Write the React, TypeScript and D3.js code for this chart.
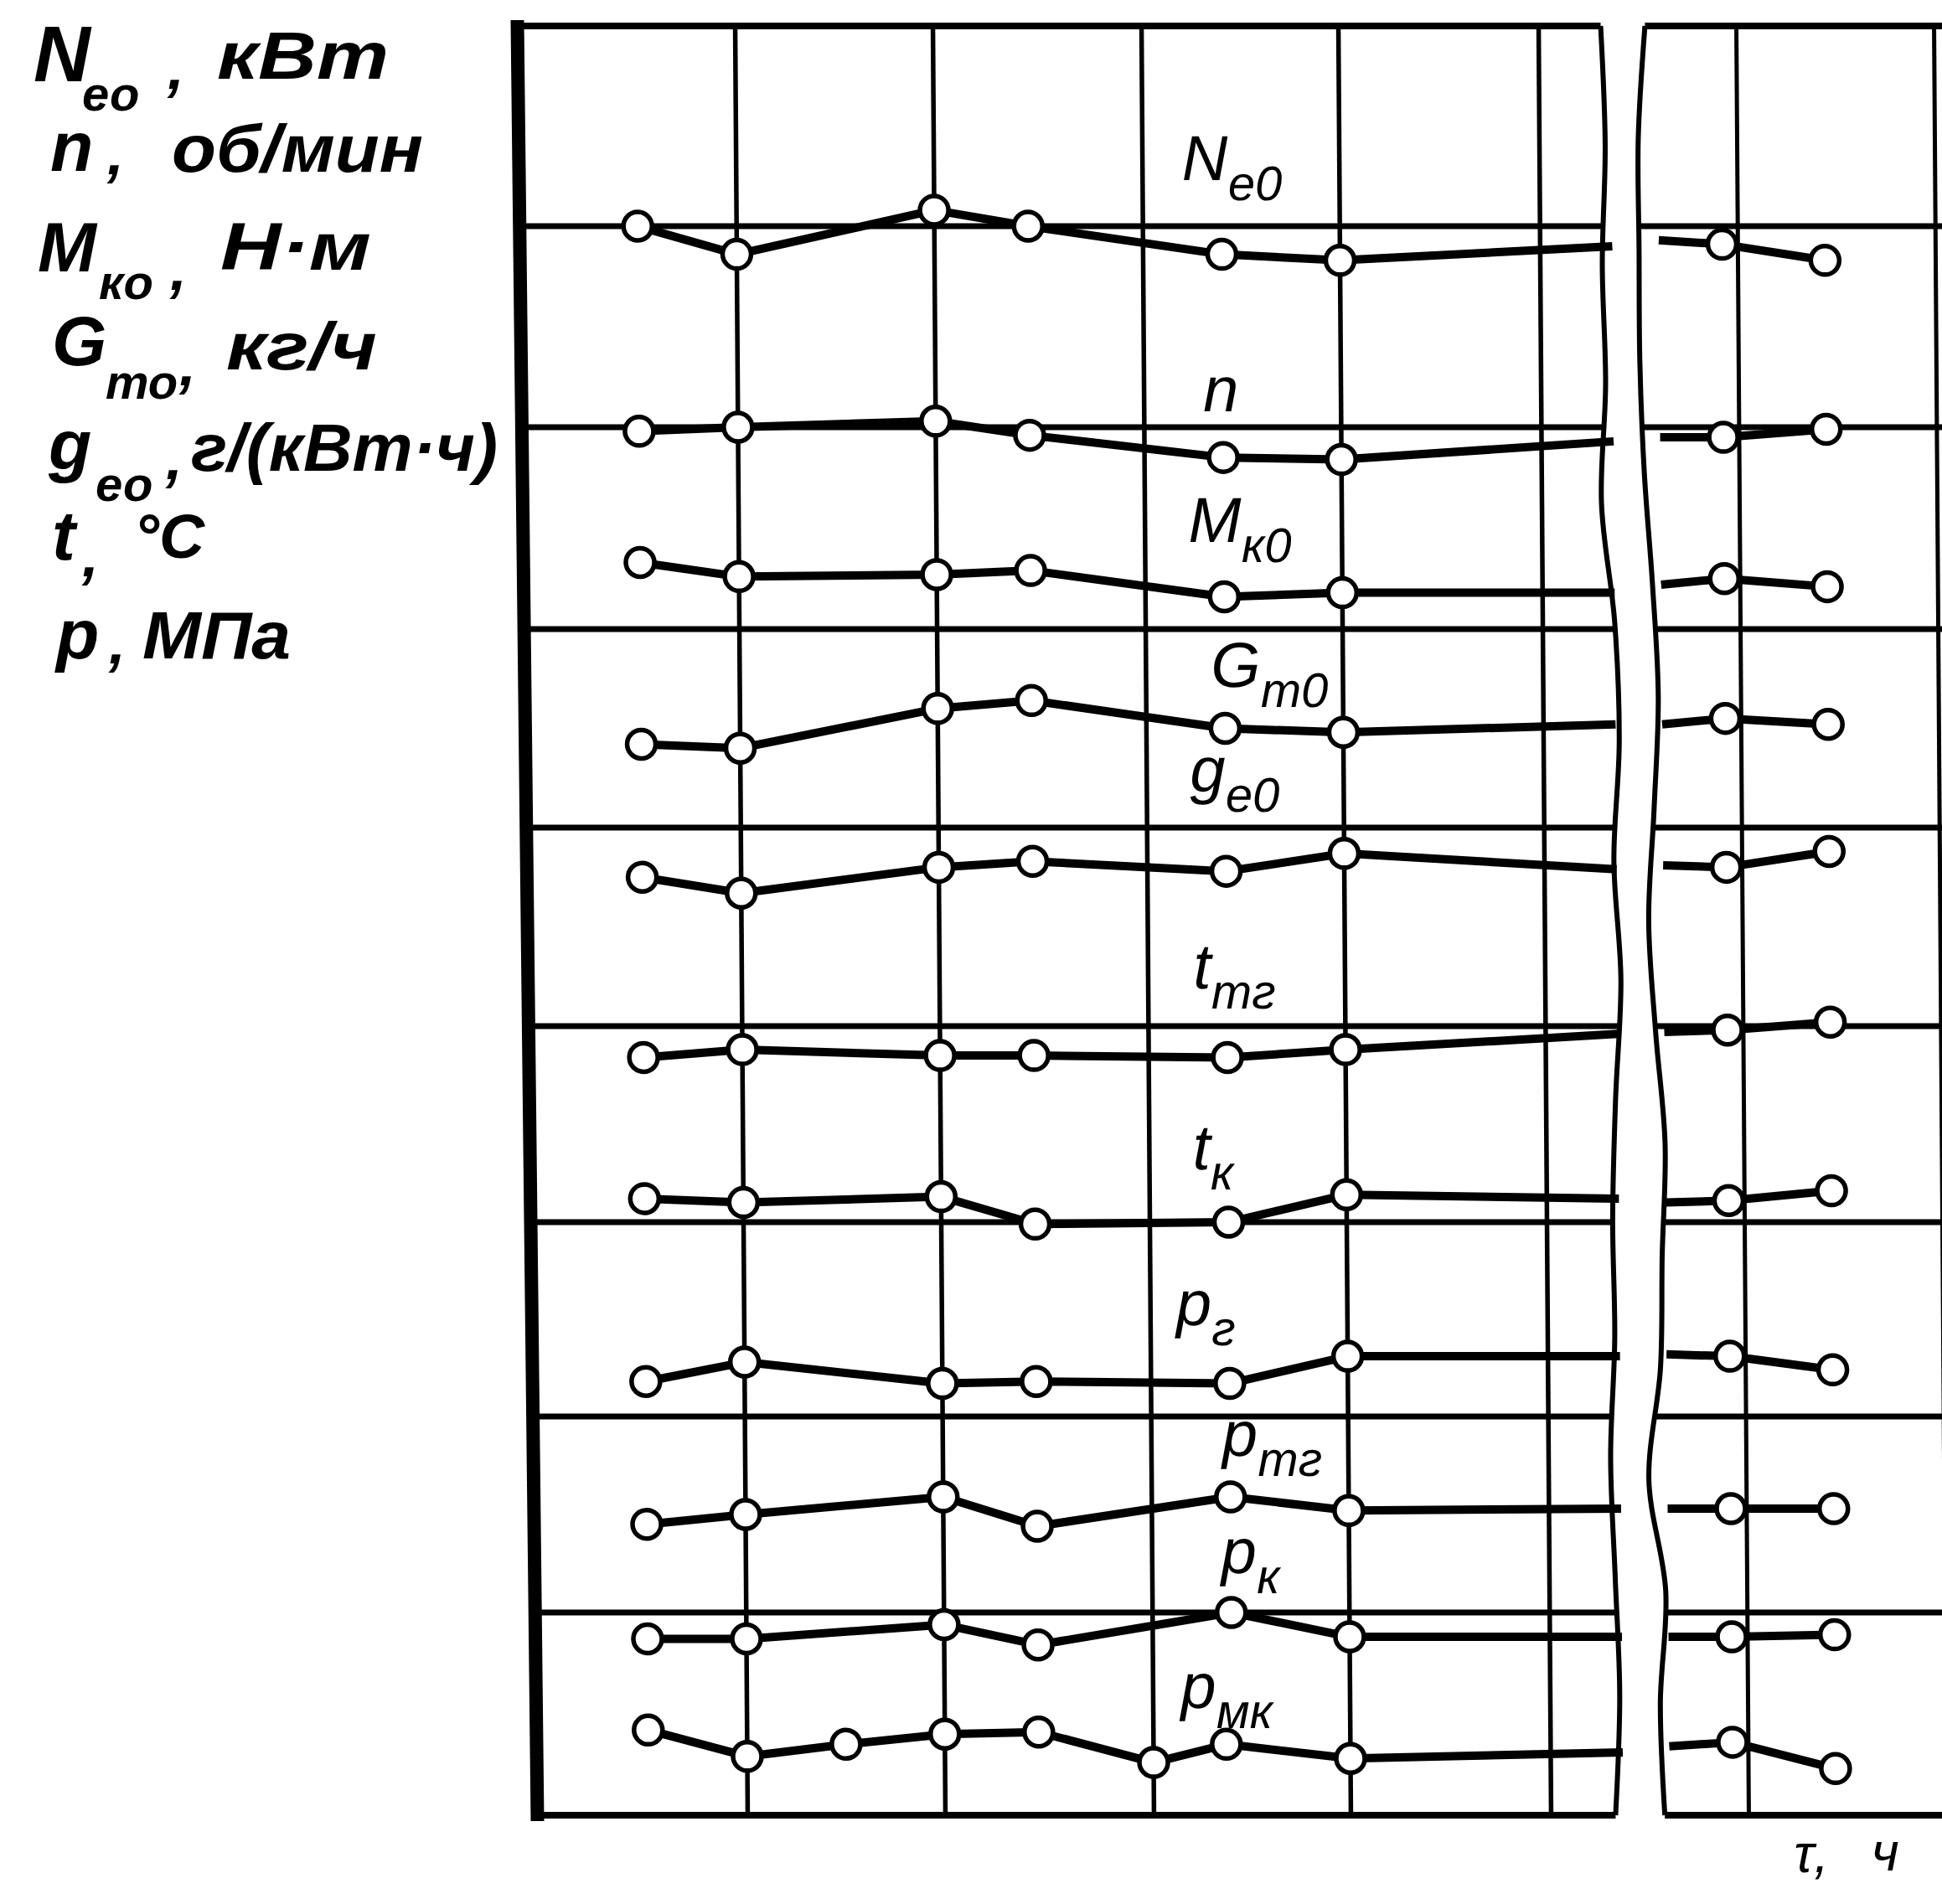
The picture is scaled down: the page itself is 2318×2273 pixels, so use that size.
import React from "react";
import * as d3 from "d3";

const WIDTH = 2318;
const HEIGHT = 2273;

// ---------------- data ----------------
const seriesKeys = ["Ne0", "n", "Mk0", "Gt0", "ge0", "ttg", "tk", "pg", "ptg", "pk", "pmk"];

// time positions (grid units) of the measured points
const tauMain = [0.5, 1, 2, 2.45, 3.4, 4];
const tauPmk = [0.5, 1, 1.5, 2, 2.45, 3.0, 3.37, 4];
const tauRightPts = [-0.08, 0.44];
const tauLeftEnd = 5.36;
const tauRightStart = -0.4;

// values (grid units, 0 = bottom line, 9 = top line)
const ne0Left = [8.0, 7.86, 8.08, 8.0, 7.86, 7.83];
const ne0Right = [7.91, 7.83];
const nLeft = [6.98, 7.0, 7.03, 6.96, 6.85, 6.84];
const nRight = [6.95, 6.99];
const mk0Left = [6.33, 6.26, 6.27, 6.29, 6.16, 6.18];
const mk0Right = [6.25, 6.21];
const gt0Left = [5.42, 5.4, 5.6, 5.64, 5.5, 5.48];
const gt0Right = [5.55, 5.52];
const ge0Left = [4.75, 4.67, 4.8, 4.83, 4.78, 4.87];
const ge0Right = [4.8, 4.88];
const ttgLeft = [3.84, 3.88, 3.85, 3.85, 3.84, 3.88];
const ttgRight = [3.98, 4.02];
const tkLeft = [3.12, 3.1, 3.13, 2.99, 3.0, 3.14];
const tkRight = [3.11, 3.16];
const pgLeft = [2.18, 2.28, 2.17, 2.18, 2.17, 2.31];
const pgRight = [2.31, 2.24];
const ptgLeft = [1.45, 1.5, 1.59, 1.44, 1.59, 1.52];
const ptgRight = [1.53, 1.53];
const pkLeft = [0.87, 0.87, 0.94, 0.84, 1.0, 0.88];
const pkRight = [0.88, 0.89];
const pmkLeft = [0.42, 0.29, 0.35, 0.4, 0.41, 0.26, 0.35, 0.28];
const pmkRight = [0.36, 0.23];
const leftEndValues = [7.9, 6.93, 6.18, 5.52, 4.79, 3.96, 3.12, 2.31, 1.53, 0.88, 0.31];
const rightStartValues = [7.93, 6.95, 6.22, 5.52, 4.81, 3.97, 3.1, 2.32, 1.53, 0.88, 0.34];

// curve labels
const labelMain = ["N", "n", "M", "G", "g", "t", "t", "p", "p", "p", "p"];
const labelSub = ["e0", "", "к0", "т0", "е0", "тг", "к", "г", "тг", "к", "мк"];
const labelTau = [3.2, 3.3, 3.22, 3.33, 3.22, 3.23, 3.22, 3.13, 3.36, 3.35, 3.14];
const labelValue = [8.23, 7.08, 6.43, 5.71, 5.18, 4.19, 3.27, 2.47, 1.8, 1.2, 0.53];

// grid
const gridTauLeft = [1, 2, 3, 4, 5];
const gridTauRight = [0, 1];
const gridRows = [0, 1, 2, 3, 4, 5, 6, 7, 8, 9];

// quantity list at the top-left
const axisSymbols = ["N", "n", "M", "G", "g", "t", "p"];
const axisSubs = ["ео", "", "ко", "то", "ео", "", ""];
const axisUnits = ["кВт", "об/мин", "Н·м", "кг/ч", "г/(кВт·ч)", "°C", "МПа"];
const timeSymbol = "τ,";
const timeUnit = "ч";

// ---------------- layout ----------------
const gridXLeft = [885, 1121, 1370, 1605, 1844];
const gridXRight = [2080, 2316];
const gridYRows = [2167, 1925, 1691, 1459, 1225, 988, 751, 510, 270, 31];
const yTop = 31;
const yBottom = 2167;
const yMid = 1100;
const skewDeg = 0.4;
const leftEdgeBase = 1918;
const leftEdgeWobble = [0, 3, 0, 2, -2, 8, 11, 6, 11, 6, 3, 4, 0, 3, 6, 2];
const rightEdgeBase = 1962;
const rightEdgeWobble = [6, 0, 0, 0, 3, 9, 13, 9, 4, 9, 16, 13, 11, 1, 14, 9, 12];

// positions of the quantity list parts
const axSymX = [40, 60, 45, 62, 58, 62, 67];
const axSymY = [97, 204, 324, 436, 560, 668, 786];
const axSubX = [98, 0, 118, 126, 114, 0, 0];
const axSubY = [132, 0, 357, 476, 598, 0, 0];
const axComX = [200, 128, 203, 214, 198, 98, 130];
const axComY = [106, 208, 346, 460, 572, 688, 792];
const axUnitX = [259, 205, 263, 270, 228, 160, 170];
const axUnitY = [94, 205, 322, 441, 562, 666, 786];
const axUnitW = [205, 300, 180, 180, 366, 84, 177];

const FONT = "'Liberation Sans', Arial, sans-serif";

export default function App() {
  const xL = d3.scaleLinear().domain(gridTauLeft).range(gridXLeft);
  const xR = d3.scaleLinear().domain(gridTauRight).range(gridXRight);
  const y = d3.scaleLinear().domain(gridRows).range(gridYRows);

  const lefts = [ne0Left, nLeft, mk0Left, gt0Left, ge0Left, ttgLeft, tkLeft, pgLeft, ptgLeft, pkLeft, pmkLeft];
  const rights = [ne0Right, nRight, mk0Right, gt0Right, ge0Right, ttgRight, tkRight, pgRight, ptgRight, pkRight, pmkRight];

  const line = d3
    .line<[number, number]>()
    .x((d) => d[0])
    .y((d) => d[1])
    .curve(d3.curveLinear);

  const edgeLine = d3
    .line<[number, number]>()
    .x((d) => d[0])
    .y((d) => d[1])
    .curve(d3.curveCatmullRom);

  const leftEdgePts: [number, number][] = leftEdgeWobble.map((o, i) => [
    leftEdgeBase + o * 1.478,
    yTop + ((yBottom - yTop) * i) / (leftEdgeWobble.length - 1),
  ]);
  const rightEdgePts: [number, number][] = rightEdgeWobble.map((o, i) => [
    rightEdgeBase + o * 1.478,
    yTop + ((yBottom - yTop) * i) / (rightEdgeWobble.length - 1),
  ]);
  const leftEdgeX = d3.scaleLinear().domain(leftEdgePts.map((p) => p[1])).range(leftEdgePts.map((p) => p[0]));
  const rightEdgeX = d3.scaleLinear().domain(rightEdgePts.map((p) => p[1])).range(rightEdgePts.map((p) => p[0]));

  // left frame (raw coordinates inside the sheared group)
  const frameTop: [number, number] = [625, 24];
  const frameBot: [number, number] = [634, 2174];
  const frameX = (yy: number) =>
    frameTop[0] + ((frameBot[0] - frameTop[0]) * (yy - frameTop[1])) / (frameBot[1] - frameTop[1]);

  const seriesData = seriesKeys.map((key, i) => {
    const taus = key === "pmk" ? tauPmk : tauMain;
    const leftPts: [number, number][] = lefts[i].map((v, j) => [xL(taus[j]), y(v)]);
    const leftPath: [number, number][] = [...leftPts, [xL(tauLeftEnd), y(leftEndValues[i])]];
    const rightPts: [number, number][] = rights[i].map((v, j) => [xR(tauRightPts[j]), y(v)]);
    const rightPath: [number, number][] = [[xR(tauRightStart), y(rightStartValues[i])], ...rightPts];
    return { key, leftPts, leftPath, rightPts, rightPath };
  });

  return (
    <svg
      width={WIDTH}
      height={HEIGHT}
      viewBox={`0 0 ${WIDTH} ${HEIGHT}`}
      style={{ position: "absolute", left: 0, top: 0, background: "#fff" }}
    >
      <rect x={0} y={0} width={WIDTH} height={HEIGHT} fill="#fff" />
      <g transform={`translate(0,${yMid}) skewX(${skewDeg}) translate(0,${-yMid})`}>
        {/* horizontal grid - left panel */}
        {gridRows.map((r) => {
          const yy = y(r);
          const edge = r === 0 || r === 9;
          return (
            <line
              key={"hl" + r}
              x1={frameX(yy)}
              x2={leftEdgeX(yy)}
              y1={yy}
              y2={yy}
              stroke="#000"
              strokeWidth={edge ? 8 : 7}
            />
          );
        })}
        {/* horizontal grid - right panel */}
        {gridRows.map((r) => {
          const yy = y(r);
          const edge = r === 0 || r === 9;
          return (
            <line
              key={"hr" + r}
              x1={rightEdgeX(yy)}
              x2={WIDTH + 20}
              y1={yy}
              y2={yy}
              stroke="#000"
              strokeWidth={edge ? 8 : 7}
            />
          );
        })}
        {/* vertical grid */}
        {gridTauLeft.map((t) => (
          <line key={"vl" + t} x1={xL(t)} x2={xL(t)} y1={yTop} y2={yBottom} stroke="#000" strokeWidth={5.5} />
        ))}
        {gridTauRight.map((t) => (
          <line key={"vr" + t} x1={xR(t)} x2={xR(t)} y1={yTop} y2={yBottom} stroke="#000" strokeWidth={5} />
        ))}
        {/* break edges */}
        <path d={edgeLine(leftEdgePts) || ""} fill="none" stroke="#000" strokeWidth={6} />
        <path d={edgeLine(rightEdgePts) || ""} fill="none" stroke="#000" strokeWidth={6} />
        {/* left frame */}
        <line x1={frameTop[0]} y1={frameTop[1]} x2={frameBot[0]} y2={frameBot[1]} stroke="#000" strokeWidth={16} />

        {/* series lines */}
        {seriesData.map((s) => (
          <g key={s.key}>
            <path d={line(s.leftPath) || ""} fill="none" stroke="#000" strokeWidth={10} strokeLinejoin="round" />
            <path d={line(s.rightPath) || ""} fill="none" stroke="#000" strokeWidth={10} strokeLinejoin="round" />
          </g>
        ))}
        {/* markers */}
        {seriesData.map((s) => (
          <g key={s.key + "m"}>
            {[...s.leftPts, ...s.rightPts].map((p, j) => (
              <circle key={j} cx={p[0]} cy={p[1]} r={17} fill="#fff" stroke="#000" strokeWidth={5.5} />
            ))}
          </g>
        ))}

        {/* curve labels */}
        {seriesKeys.map((k, i) => (
          <text
            key={k + "lab"}
            x={xL(labelTau[i])}
            y={y(labelValue[i])}
            fontFamily={FONT}
            fontStyle="italic"
            fontSize={76}
            fill="#000"
          >
            {labelMain[i]}
            {labelSub[i] ? (
              <tspan fontSize={58} dy={24}>
                {labelSub[i]}
              </tspan>
            ) : null}
          </text>
        ))}
      </g>

      {/* time label */}
      <text x={xR(0.26)} y={yBottom + 68} fontFamily={FONT} fontStyle="italic" fontSize={64} fill="#000">
        {timeSymbol}
      </text>
      <text x={xR(0.65)} y={yBottom + 66} fontFamily={FONT} fontStyle="italic" fontSize={64} fill="#000">
        {timeUnit}
      </text>

      {/* quantity list */}
      {axisSymbols.map((s, i) => (
        <g key={"ax" + i} fontFamily={FONT} fontStyle="italic" fontWeight="bold" fill="#000">
          <text x={axSymX[i]} y={axSymY[i]} fontSize={i === 0 ? 94 : 84}>
            {s}
          </text>
          {axisSubs[i] ? (
            <text x={axSubX[i]} y={axSubY[i]} fontSize={58}>
              {axisSubs[i]}
            </text>
          ) : null}
          <text x={axComX[i]} y={axComY[i]} fontSize={72}>
            ,
          </text>
          <text
            x={axUnitX[i]}
            y={axUnitY[i]}
            fontSize={i === 5 ? 74 : 80}
            textLength={axUnitW[i]}
            lengthAdjust="spacingAndGlyphs"
          >
            {axisUnits[i]}
          </text>
        </g>
      ))}
    </svg>
  );
}
